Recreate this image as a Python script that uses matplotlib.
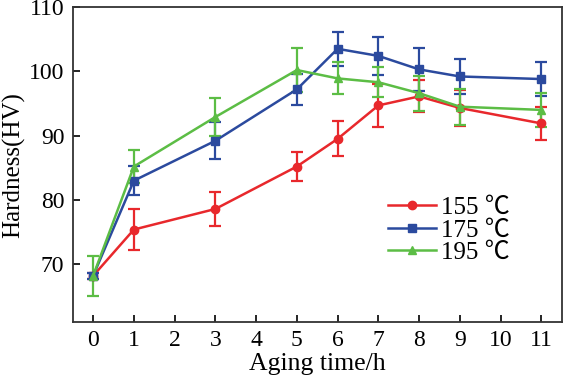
import matplotlib
matplotlib.use('Agg')
import matplotlib.pyplot as plt
from matplotlib.lines import Line2D
from matplotlib.font_manager import FontProperties

plt.rcParams['font.family'] = ['Liberation Serif', 'DejaVu Serif']

# aging time (h)
time_h = [0, 1, 3, 5, 6, 7, 8, 9, 11]

# hardness (HV) and error bars per aging temperature
hv_155 = [68.2, 75.4, 78.6, 85.2, 89.5, 94.7, 96.1, 94.3, 91.9]
err_155 = [0.5, 3.2, 2.6, 2.3, 2.7, 3.3, 2.5, 2.8, 2.6]
hv_175 = [68.2, 83.0, 89.2, 97.2, 103.5, 102.4, 100.3, 99.2, 98.8]
err_175 = [0.5, 2.3, 2.9, 2.4, 2.6, 3.0, 3.3, 2.7, 2.6]
hv_195 = [68.2, 85.2, 92.9, 100.2, 98.9, 98.3, 96.6, 94.5, 94.0]
err_195 = [3.1, 2.6, 3.0, 3.4, 2.5, 2.3, 2.7, 2.8, 2.7]

labels = ['155 \u2103', '175 \u2103', '195 \u2103']
colors = ['#e8282c', '#2b4a9e', '#5cbd45']
markers = ['o', 's', '^']

fig = plt.figure(figsize=(5.64, 3.79), dpi=100)
ax = fig.add_axes([0.129, 0.150, 0.867, 0.8315])

series = [(hv_155, err_155), (hv_175, err_175), (hv_195, err_195)]
handles = []
for (vals, errs), c, m, lab in zip(series, colors, markers, labels):
    ax.errorbar(time_h, vals, yerr=errs, color=c, marker=m, markersize=6,
                linewidth=1.8, elinewidth=1.6, capsize=4, capthick=1.6)
    handles.append(Line2D([], [], color=c, marker=m, markersize=6,
                          linewidth=1.8, label=lab))

ax.set_xlim(-0.5, 11.5)
ax.set_ylim(61, 110)
ax.set_xticks(range(0, 12))
ax.set_yticks([70, 80, 90, 100, 110])
ax.tick_params(direction='in', length=5, width=1.2, labelsize=17,
               top=False, right=False, pad=6)
for sp in ax.spines.values():
    sp.set_linewidth(1.3)
    sp.set_color('#333333')

ax.set_xlabel('Aging time/h', fontsize=18.5, labelpad=1)
ax.set_ylabel('Hardness(HV)', fontsize=18, labelpad=3)

leg_font = FontProperties(family=['Liberation Serif', 'Noto Sans CJK SC'],
                          size=18)
ax.legend(handles=handles, loc='upper left', bbox_to_anchor=(0.625, 0.43),
          frameon=False, prop=leg_font, handlelength=1.9,
          handletextpad=0.2, labelspacing=0.0, borderaxespad=0)

fig.savefig('out.png', dpi=100)
